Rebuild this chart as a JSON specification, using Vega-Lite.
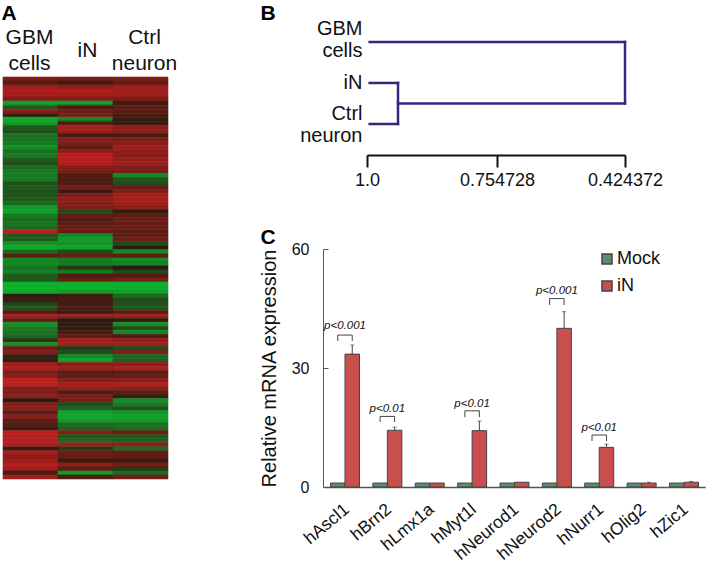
{"$schema":"https://vega.github.io/schema/vega-lite/v6.json","width":709,"height":567,"padding":0,"autosize":{"type":"none"},"background":"white",
"config":{"view":{"stroke":null},"font":"Liberation Sans"},
"datasets":{"bars":[
{"gene":"hAscl1","series":"Mock","value":1},{"gene":"hAscl1","series":"iN","value":33.5,"upper":35.8},
{"gene":"hBrn2","series":"Mock","value":1},{"gene":"hBrn2","series":"iN","value":14.3,"upper":15.1},
{"gene":"hLmx1a","series":"Mock","value":1},{"gene":"hLmx1a","series":"iN","value":1},
{"gene":"hMyt1l","series":"Mock","value":1},{"gene":"hMyt1l","series":"iN","value":14.2,"upper":16.6},
{"gene":"hNeurod1","series":"Mock","value":1},{"gene":"hNeurod1","series":"iN","value":1.2},
{"gene":"hNeurod2","series":"Mock","value":1},{"gene":"hNeurod2","series":"iN","value":40,"upper":44.2},
{"gene":"hNurr1","series":"Mock","value":1},{"gene":"hNurr1","series":"iN","value":10,"upper":10.8},
{"gene":"hOlig2","series":"Mock","value":1},{"gene":"hOlig2","series":"iN","value":1,"upper":1.2},
{"gene":"hZic1","series":"Mock","value":1},{"gene":"hZic1","series":"iN","value":1.2,"upper":1.4}]},
"resolve":{"scale":{"x":"independent","y":"independent","color":"independent"},"axis":{"x":"independent","y":"independent"},"legend":{"color":"independent"}},
"layer":[
{"data":{"values":[
{"r":0,"c":"GBM cells","v":0.5},{"r":0,"c":"iN","v":0.45},{"r":0,"c":"Ctrl neuron","v":0.5},
{"r":1,"c":"GBM cells","v":0.25},{"r":1,"c":"iN","v":0.15},{"r":1,"c":"Ctrl neuron","v":0.35},
{"r":2,"c":"GBM cells","v":0.7},{"r":2,"c":"iN","v":0.6},{"r":2,"c":"Ctrl neuron","v":0.7},
{"r":3,"c":"GBM cells","v":0.8},{"r":3,"c":"iN","v":0.8},{"r":3,"c":"Ctrl neuron","v":0.7},
{"r":4,"c":"GBM cells","v":0.75},{"r":4,"c":"iN","v":0.75},{"r":4,"c":"Ctrl neuron","v":0.7},
{"r":5,"c":"GBM cells","v":0.5},{"r":5,"c":"iN","v":0.5},{"r":5,"c":"Ctrl neuron","v":0.5},
{"r":6,"c":"GBM cells","v":-0.85},{"r":6,"c":"iN","v":-0.85},{"r":6,"c":"Ctrl neuron","v":0.15},
{"r":7,"c":"GBM cells","v":-0.4},{"r":7,"c":"iN","v":0.2},{"r":7,"c":"Ctrl neuron","v":0.3},
{"r":8,"c":"GBM cells","v":0.6},{"r":8,"c":"iN","v":0.4},{"r":8,"c":"Ctrl neuron","v":0.25},
{"r":9,"c":"GBM cells","v":0.1},{"r":9,"c":"iN","v":0.45},{"r":9,"c":"Ctrl neuron","v":0.2},
{"r":10,"c":"GBM cells","v":-0.9},{"r":10,"c":"iN","v":-0.7},{"r":10,"c":"Ctrl neuron","v":0.05},
{"r":11,"c":"GBM cells","v":-0.8},{"r":11,"c":"iN","v":0.2},{"r":11,"c":"Ctrl neuron","v":0.05},
{"r":12,"c":"GBM cells","v":-0.4},{"r":12,"c":"iN","v":0.75},{"r":12,"c":"Ctrl neuron","v":0.6},
{"r":13,"c":"GBM cells","v":-0.3},{"r":13,"c":"iN","v":0.7},{"r":13,"c":"Ctrl neuron","v":0.6},
{"r":14,"c":"GBM cells","v":-0.55},{"r":14,"c":"iN","v":0.15},{"r":14,"c":"Ctrl neuron","v":0.15},
{"r":15,"c":"GBM cells","v":-0.55},{"r":15,"c":"iN","v":0.55},{"r":15,"c":"Ctrl neuron","v":0.5},
{"r":16,"c":"GBM cells","v":-0.6},{"r":16,"c":"iN","v":0.5},{"r":16,"c":"Ctrl neuron","v":0.55},
{"r":17,"c":"GBM cells","v":-0.75},{"r":17,"c":"iN","v":0.3},{"r":17,"c":"Ctrl neuron","v":0.7},
{"r":18,"c":"GBM cells","v":-0.55},{"r":18,"c":"iN","v":0.6},{"r":18,"c":"Ctrl neuron","v":0.6},
{"r":19,"c":"GBM cells","v":-0.6},{"r":19,"c":"iN","v":0.85},{"r":19,"c":"Ctrl neuron","v":0.55},
{"r":20,"c":"GBM cells","v":-0.4},{"r":20,"c":"iN","v":0.85},{"r":20,"c":"Ctrl neuron","v":0.65},
{"r":21,"c":"GBM cells","v":-0.3},{"r":21,"c":"iN","v":0.8},{"r":21,"c":"Ctrl neuron","v":0.7},
{"r":22,"c":"GBM cells","v":-0.5},{"r":22,"c":"iN","v":0.55},{"r":22,"c":"Ctrl neuron","v":0.5},
{"r":23,"c":"GBM cells","v":-0.6},{"r":23,"c":"iN","v":0.45},{"r":23,"c":"Ctrl neuron","v":0.45},
{"r":24,"c":"GBM cells","v":-0.6},{"r":24,"c":"iN","v":0.2},{"r":24,"c":"Ctrl neuron","v":-0.7},
{"r":25,"c":"GBM cells","v":-0.6},{"r":25,"c":"iN","v":0.2},{"r":25,"c":"Ctrl neuron","v":-0.35},
{"r":26,"c":"GBM cells","v":-0.35},{"r":26,"c":"iN","v":0.2},{"r":26,"c":"Ctrl neuron","v":-0.3},
{"r":27,"c":"GBM cells","v":-0.4},{"r":27,"c":"iN","v":0.45},{"r":27,"c":"Ctrl neuron","v":0.35},
{"r":28,"c":"GBM cells","v":-0.35},{"r":28,"c":"iN","v":0.1},{"r":28,"c":"Ctrl neuron","v":0.5},
{"r":29,"c":"GBM cells","v":-0.35},{"r":29,"c":"iN","v":0.5},{"r":29,"c":"Ctrl neuron","v":0.75},
{"r":30,"c":"GBM cells","v":-0.4},{"r":30,"c":"iN","v":0.6},{"r":30,"c":"Ctrl neuron","v":0.7},
{"r":31,"c":"GBM cells","v":-0.5},{"r":31,"c":"iN","v":0.55},{"r":31,"c":"Ctrl neuron","v":0.7},
{"r":32,"c":"GBM cells","v":-0.8},{"r":32,"c":"iN","v":0.5},{"r":32,"c":"Ctrl neuron","v":0.6},
{"r":33,"c":"GBM cells","v":-0.85},{"r":33,"c":"iN","v":-0.3},{"r":33,"c":"Ctrl neuron","v":0.05},
{"r":34,"c":"GBM cells","v":-0.6},{"r":34,"c":"iN","v":0.35},{"r":34,"c":"Ctrl neuron","v":0.3},
{"r":35,"c":"GBM cells","v":-0.5},{"r":35,"c":"iN","v":0.2},{"r":35,"c":"Ctrl neuron","v":0.4},
{"r":36,"c":"GBM cells","v":-0.55},{"r":36,"c":"iN","v":0.3},{"r":36,"c":"Ctrl neuron","v":0.35},
{"r":37,"c":"GBM cells","v":-0.5},{"r":37,"c":"iN","v":0.4},{"r":37,"c":"Ctrl neuron","v":0.4},
{"r":38,"c":"GBM cells","v":0.85},{"r":38,"c":"iN","v":0.35},{"r":38,"c":"Ctrl neuron","v":0.3},
{"r":39,"c":"GBM cells","v":-0.4},{"r":39,"c":"iN","v":-0.7},{"r":39,"c":"Ctrl neuron","v":0.3},
{"r":40,"c":"GBM cells","v":-0.4},{"r":40,"c":"iN","v":-0.8},{"r":40,"c":"Ctrl neuron","v":0.4},
{"r":41,"c":"GBM cells","v":-0.75},{"r":41,"c":"iN","v":-0.75},{"r":41,"c":"Ctrl neuron","v":-0.3},
{"r":42,"c":"GBM cells","v":-0.9},{"r":42,"c":"iN","v":-0.85},{"r":42,"c":"Ctrl neuron","v":0},
{"r":43,"c":"GBM cells","v":-0.5},{"r":43,"c":"iN","v":-0.3},{"r":43,"c":"Ctrl neuron","v":-0.7},
{"r":44,"c":"GBM cells","v":0.3},{"r":44,"c":"iN","v":0.4},{"r":44,"c":"Ctrl neuron","v":0.3},
{"r":45,"c":"GBM cells","v":-0.7},{"r":45,"c":"iN","v":-0.6},{"r":45,"c":"Ctrl neuron","v":-0.7},
{"r":46,"c":"GBM cells","v":-0.7},{"r":46,"c":"iN","v":-0.6},{"r":46,"c":"Ctrl neuron","v":-0.65},
{"r":47,"c":"GBM cells","v":-0.55},{"r":47,"c":"iN","v":-0.2},{"r":47,"c":"Ctrl neuron","v":0},
{"r":48,"c":"GBM cells","v":-0.65},{"r":48,"c":"iN","v":-0.6},{"r":48,"c":"Ctrl neuron","v":-0.3},
{"r":49,"c":"GBM cells","v":-0.4},{"r":49,"c":"iN","v":0.2},{"r":49,"c":"Ctrl neuron","v":0.2},
{"r":50,"c":"GBM cells","v":-0.4},{"r":50,"c":"iN","v":0.4},{"r":50,"c":"Ctrl neuron","v":0.5},
{"r":51,"c":"GBM cells","v":-0.95},{"r":51,"c":"iN","v":-0.95},{"r":51,"c":"Ctrl neuron","v":-0.95},
{"r":52,"c":"GBM cells","v":-0.95},{"r":52,"c":"iN","v":-0.95},{"r":52,"c":"Ctrl neuron","v":-0.95},
{"r":53,"c":"GBM cells","v":-0.9},{"r":53,"c":"iN","v":-0.8},{"r":53,"c":"Ctrl neuron","v":-0.85},
{"r":54,"c":"GBM cells","v":0.05},{"r":54,"c":"iN","v":0.1},{"r":54,"c":"Ctrl neuron","v":-0.5},
{"r":55,"c":"GBM cells","v":0.1},{"r":55,"c":"iN","v":0.15},{"r":55,"c":"Ctrl neuron","v":-0.3},
{"r":56,"c":"GBM cells","v":-0.25},{"r":56,"c":"iN","v":0.15},{"r":56,"c":"Ctrl neuron","v":-0.35},
{"r":57,"c":"GBM cells","v":-0.4},{"r":57,"c":"iN","v":0.2},{"r":57,"c":"Ctrl neuron","v":-0.4},
{"r":58,"c":"GBM cells","v":0.2},{"r":58,"c":"iN","v":0.1},{"r":58,"c":"Ctrl neuron","v":0.3},
{"r":59,"c":"GBM cells","v":0.75},{"r":59,"c":"iN","v":0.7},{"r":59,"c":"Ctrl neuron","v":0.7},
{"r":60,"c":"GBM cells","v":0.35},{"r":60,"c":"iN","v":0},{"r":60,"c":"Ctrl neuron","v":0.05},
{"r":61,"c":"GBM cells","v":-0.75},{"r":61,"c":"iN","v":0.05},{"r":61,"c":"Ctrl neuron","v":-0.75},
{"r":62,"c":"GBM cells","v":-0.6},{"r":62,"c":"iN","v":0.05},{"r":62,"c":"Ctrl neuron","v":-0.3},
{"r":63,"c":"GBM cells","v":-0.55},{"r":63,"c":"iN","v":0.15},{"r":63,"c":"Ctrl neuron","v":-0.7},
{"r":64,"c":"GBM cells","v":-0.5},{"r":64,"c":"iN","v":0.3},{"r":64,"c":"Ctrl neuron","v":0.2},
{"r":65,"c":"GBM cells","v":-0.15},{"r":65,"c":"iN","v":0.75},{"r":65,"c":"Ctrl neuron","v":0.65},
{"r":66,"c":"GBM cells","v":-0.75},{"r":66,"c":"iN","v":0.7},{"r":66,"c":"Ctrl neuron","v":0.7},
{"r":67,"c":"GBM cells","v":0.4},{"r":67,"c":"iN","v":-0.2},{"r":67,"c":"Ctrl neuron","v":-0.3},
{"r":68,"c":"GBM cells","v":0.55},{"r":68,"c":"iN","v":-0.3},{"r":68,"c":"Ctrl neuron","v":0.5},
{"r":69,"c":"GBM cells","v":0.1},{"r":69,"c":"iN","v":-0.7},{"r":69,"c":"Ctrl neuron","v":-0.5},
{"r":70,"c":"GBM cells","v":0.05},{"r":70,"c":"iN","v":-0.85},{"r":70,"c":"Ctrl neuron","v":-0.45},
{"r":71,"c":"GBM cells","v":0.7},{"r":71,"c":"iN","v":0.55},{"r":71,"c":"Ctrl neuron","v":0.6},
{"r":72,"c":"GBM cells","v":0.8},{"r":72,"c":"iN","v":0.7},{"r":72,"c":"Ctrl neuron","v":0.8},
{"r":73,"c":"GBM cells","v":0.5},{"r":73,"c":"iN","v":0.3},{"r":73,"c":"Ctrl neuron","v":0.3},
{"r":74,"c":"GBM cells","v":0.6},{"r":74,"c":"iN","v":0.3},{"r":74,"c":"Ctrl neuron","v":0.35},
{"r":75,"c":"GBM cells","v":0.9},{"r":75,"c":"iN","v":0.55},{"r":75,"c":"Ctrl neuron","v":0.6},
{"r":76,"c":"GBM cells","v":0.9},{"r":76,"c":"iN","v":0.75},{"r":76,"c":"Ctrl neuron","v":0.8},
{"r":77,"c":"GBM cells","v":0.55},{"r":77,"c":"iN","v":0.65},{"r":77,"c":"Ctrl neuron","v":0.6},
{"r":78,"c":"GBM cells","v":0.5},{"r":78,"c":"iN","v":0.2},{"r":78,"c":"Ctrl neuron","v":0.3},
{"r":79,"c":"GBM cells","v":0.6},{"r":79,"c":"iN","v":0.5},{"r":79,"c":"Ctrl neuron","v":0.1},
{"r":80,"c":"GBM cells","v":0},{"r":80,"c":"iN","v":0.45},{"r":80,"c":"Ctrl neuron","v":-0.7},
{"r":81,"c":"GBM cells","v":0.55},{"r":81,"c":"iN","v":-0.3},{"r":81,"c":"Ctrl neuron","v":-0.6},
{"r":82,"c":"GBM cells","v":0.6},{"r":82,"c":"iN","v":-0.45},{"r":82,"c":"Ctrl neuron","v":-0.35},
{"r":83,"c":"GBM cells","v":0.3},{"r":83,"c":"iN","v":-0.85},{"r":83,"c":"Ctrl neuron","v":-0.8},
{"r":84,"c":"GBM cells","v":0.6},{"r":84,"c":"iN","v":-0.9},{"r":84,"c":"Ctrl neuron","v":-0.85},
{"r":85,"c":"GBM cells","v":0.3},{"r":85,"c":"iN","v":-0.8},{"r":85,"c":"Ctrl neuron","v":-0.8},
{"r":86,"c":"GBM cells","v":0.25},{"r":86,"c":"iN","v":-0.5},{"r":86,"c":"Ctrl neuron","v":-0.55},
{"r":87,"c":"GBM cells","v":0.1},{"r":87,"c":"iN","v":-0.45},{"r":87,"c":"Ctrl neuron","v":-0.5},
{"r":88,"c":"GBM cells","v":0.9},{"r":88,"c":"iN","v":0.55},{"r":88,"c":"Ctrl neuron","v":0.4},
{"r":89,"c":"GBM cells","v":0.85},{"r":89,"c":"iN","v":-0.4},{"r":89,"c":"Ctrl neuron","v":-0.4},
{"r":90,"c":"GBM cells","v":0.85},{"r":90,"c":"iN","v":-0.5},{"r":90,"c":"Ctrl neuron","v":-0.45},
{"r":91,"c":"GBM cells","v":0.8},{"r":91,"c":"iN","v":0.7},{"r":91,"c":"Ctrl neuron","v":0.6},
{"r":92,"c":"GBM cells","v":0.1},{"r":92,"c":"iN","v":-0.2},{"r":92,"c":"Ctrl neuron","v":-0.5},
{"r":93,"c":"GBM cells","v":0.75},{"r":93,"c":"iN","v":0.4},{"r":93,"c":"Ctrl neuron","v":0.35},
{"r":94,"c":"GBM cells","v":0.6},{"r":94,"c":"iN","v":0.35},{"r":94,"c":"Ctrl neuron","v":0.35},
{"r":95,"c":"GBM cells","v":0.7},{"r":95,"c":"iN","v":0.1},{"r":95,"c":"Ctrl neuron","v":0.1},
{"r":96,"c":"GBM cells","v":0.85},{"r":96,"c":"iN","v":0.6},{"r":96,"c":"Ctrl neuron","v":0.45},
{"r":97,"c":"GBM cells","v":0.7},{"r":97,"c":"iN","v":0.3},{"r":97,"c":"Ctrl neuron","v":-0.2},
{"r":98,"c":"GBM cells","v":0.2},{"r":98,"c":"iN","v":-0.8},{"r":98,"c":"Ctrl neuron","v":-0.5},
{"r":99,"c":"GBM cells","v":0.7},{"r":99,"c":"iN","v":0.2},{"r":99,"c":"Ctrl neuron","v":0.4}
]},
"mark":{"type":"rect","strokeWidth":0.6},
"encoding":{
"x":{"field":"c","type":"nominal","sort":["GBM cells","iN","Ctrl neuron"],"scale":{"range":[3,168],"padding":0},
"axis":{"orient":"top","offset":-77,"domain":false,"ticks":false,"grid":false,"labelAngle":0,"labelAlign":"center","labelBaseline":{"condition":{"test":"datum.value=='iN'","value":"line-top"},"value":"middle"},"labelPadding":40,"labelFontSize":21,"labelLineHeight":26,"labelColor":"#111","labelExpr":"split(datum.label,' ')","labelOverlap":false,"labelOffset":{"condition":[{"test":"datum.value=='Ctrl neuron'","value":4},{"test":"datum.value=='iN'","value":2}],"value":-1},"title":"A","titleFontSize":21,"titleFontWeight":"bold","titleColor":"#000","titleAlign":"left","titleBaseline":"top","titleX":1,"titleY":-75,"titleAngle":0}},
"y":{"field":"r","type":"ordinal","scale":{"range":[77,479],"padding":0},"axis":null},
"color":{"field":"v","type":"quantitative","scale":{"domain":[-1,0,1],"range":["#0cb82e","#2a1c10","#cf2020"],"clamp":true,"interpolate":"rgb"},"legend":null},
"stroke":{"field":"v","type":"quantitative","scale":{"domain":[-1,0,1],"range":["#0cb82e","#2a1c10","#cf2020"],"clamp":true,"interpolate":"rgb"},"legend":null}}},
{"data":{"values":[
{"x":0.995,"x2":0.424372,"y":0,"y2":0},
{"x":0.995,"x2":0.9415,"y":1,"y2":1},
{"x":0.995,"x2":0.9415,"y":2,"y2":2},
{"x":0.9415,"x2":0.9415,"y":1,"y2":2},
{"x":0.9415,"x2":0.424372,"y":1.5,"y2":1.5},
{"x":0.424372,"x2":0.424372,"y":0,"y2":1.5}]},
"mark":{"type":"rule","color":"#2f2a80","strokeWidth":2.5,"strokeCap":"square"},
"encoding":{
"x":{"field":"x","type":"quantitative","scale":{"domain":[1,0.754728,0.424372],"range":[367,497,625],"nice":false,"zero":false},
"axis":{"orient":"bottom","offset":-412,"values":[1,0.754728,0.424372],"grid":false,"domainColor":"#111","domainWidth":2,"tickColor":"#111","tickWidth":2,"tickSize":12,"labelPadding":4,"labelFontSize":18,"labelColor":"#111","labelBaseline":"top","labelFlush":false,"labelOverlap":false,"labelExpr":"datum.value==1?'1.0':format(datum.value,'.6f')","title":"B","titleFontSize":21,"titleFontWeight":"bold","titleColor":"#000","titleAlign":"left","titleBaseline":"top","titleX":260,"titleY":-153}},
"x2":{"field":"x2"},
"y":{"field":"y","type":"quantitative","scale":{"domain":[-0.34,2],"range":[28,124],"nice":false,"zero":false},
"axis":{"orient":"left","offset":-362,"values":[-0.34,1,1.756],"grid":false,"domain":false,"ticks":false,"labelPadding":0,"labelFontSize":20,"labelLineHeight":22,"labelColor":"#111","labelOverlap":false,"labelFlush":false,"labelExpr":"datum.value<0?['GBM','cells']:datum.value==1?'iN':['Ctrl','neuron']","title":null}},
"y2":{"field":"y2"}}},
{"encoding":{
"x":{"field":"gene","type":"nominal","sort":["hAscl1","hBrn2","hLmx1a","hMyt1l","hNeurod1","hNeurod2","hNurr1","hOlig2","hZic1"],"scale":{"range":[323.8,705.2],"paddingInner":0.316,"paddingOuter":0.158},
"axis":{"orient":"bottom","offset":-80,"grid":false,"ticks":false,"domainColor":"#555","domainWidth":1.5,"labelAngle":-40,"labelAlign":"right","labelBaseline":"middle","labelPadding":20,"labelOffset":2,"labelFontSize":17.5,"labelColor":"#111","labelOverlap":false,"title":"C","titleFontSize":21,"titleFontWeight":"bold","titleColor":"#000","titleAlign":"left","titleBaseline":"top","titleX":260,"titleY":-261}},
"y":{"type":"quantitative","scale":{"domain":[0,60],"range":[487,249],"nice":false},
"axis":{"orient":"left","offset":-323,"values":[0,30,60],"grid":false,"domainColor":"#555","tickColor":"#555","tickSize":-5,"labelPadding":19,"labelFontSize":16,"labelColor":"#111","title":"Relative mRNA expression","titleFontSize":20,"titleFontWeight":"normal","titleColor":"#111","titlePadding":12}}},
"layer":[
{"data":{"name":"bars"},"mark":{"type":"bar","stroke":"#444","strokeWidth":1},
"encoding":{"xOffset":{"field":"series","type":"nominal","sort":["Mock","iN"]},"y":{"field":"value","type":"quantitative","stack":null},
"color":{"field":"series","type":"nominal","sort":["Mock","iN"],"scale":{"domain":["Mock","iN"],"range":["#5c8c72","#c94f4d"]},
"legend":{"orient":"none","legendX":598,"legendY":250,"title":null,"symbolType":"square","symbolSize":100,"symbolOpacity":1,"labelFontSize":18,"labelColor":"#111","labelOffset":1,"rowPadding":9}}}},
{"data":{"name":"bars"},"transform":[{"filter":"isValid(datum.upper)"}],"mark":{"type":"rule","color":"#444","strokeWidth":1},
"encoding":{"xOffset":{"field":"series","type":"nominal","sort":["Mock","iN"]},"y":{"field":"value","type":"quantitative"},"y2":{"field":"upper"}}},
{"data":{"name":"bars"},"transform":[{"filter":"isValid(datum.upper)"}],"mark":{"type":"tick","color":"#444","size":4,"thickness":1},
"encoding":{"xOffset":{"field":"series","type":"nominal","sort":["Mock","iN"]},"y":{"field":"upper","type":"quantitative"}}},
{"data":{"values":[
{"gene":"hAscl1","series":"Mock","v":36.8,"o":1},{"gene":"hAscl1","series":"Mock","v":38.3,"o":2},{"gene":"hAscl1","series":"iN","v":38.3,"o":3},{"gene":"hAscl1","series":"iN","v":36.8,"o":4},
{"gene":"hBrn2","series":"Mock","v":16.4,"o":1},{"gene":"hBrn2","series":"Mock","v":17.8,"o":2},{"gene":"hBrn2","series":"iN","v":17.8,"o":3},{"gene":"hBrn2","series":"iN","v":16.4,"o":4},
{"gene":"hMyt1l","series":"Mock","v":17.6,"o":1},{"gene":"hMyt1l","series":"Mock","v":19.2,"o":2},{"gene":"hMyt1l","series":"iN","v":19.2,"o":3},{"gene":"hMyt1l","series":"iN","v":17.6,"o":4},
{"gene":"hNeurod2","series":"Mock","v":45.9,"o":1},{"gene":"hNeurod2","series":"Mock","v":47.5,"o":2},{"gene":"hNeurod2","series":"iN","v":47.5,"o":3},{"gene":"hNeurod2","series":"iN","v":45.9,"o":4},
{"gene":"hNurr1","series":"Mock","v":11.6,"o":1},{"gene":"hNurr1","series":"Mock","v":13.1,"o":2},{"gene":"hNurr1","series":"iN","v":13.1,"o":3},{"gene":"hNurr1","series":"iN","v":11.6,"o":4}]},
"mark":{"type":"line","color":"#444","strokeWidth":1},
"encoding":{"xOffset":{"field":"series","type":"nominal","sort":["Mock","iN"]},"y":{"field":"v","type":"quantitative"},"detail":{"field":"gene"},"order":{"field":"o"}}},
{"data":{"values":[
{"gene":"hAscl1","v":40.6,"label":"p<0.001"},
{"gene":"hBrn2","v":19.7,"label":"p<0.01"},
{"gene":"hMyt1l","v":21,"label":"p<0.01"},
{"gene":"hNeurod2","v":49.5,"label":"p<0.001"},
{"gene":"hNurr1","v":15,"label":"p<0.01"}]},
"mark":{"type":"text","fontSize":11.5,"fontStyle":"italic","color":"#111","baseline":"middle"},
"encoding":{"y":{"field":"v","type":"quantitative"},"text":{"field":"label"}}}
]}
]}
